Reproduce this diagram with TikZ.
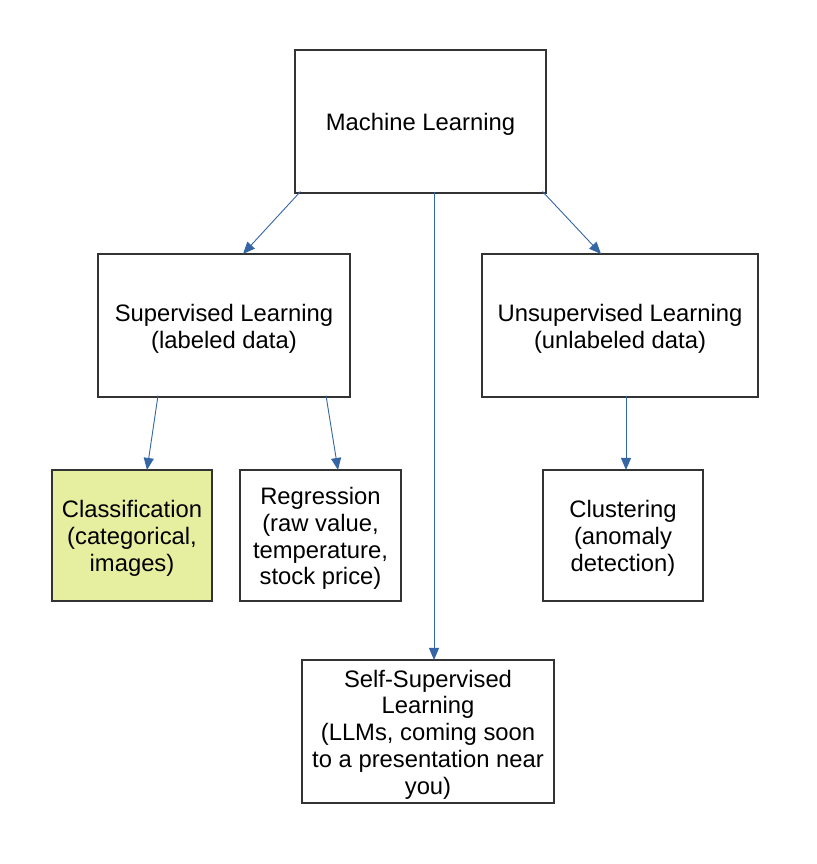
\documentclass[tikz,border=0pt]{standalone}
\usepackage{fontspec}
\setmainfont{Liberation Sans}
\usetikzlibrary{arrows.meta}
\usetikzlibrary{positioning}
\definecolor{edgeblue}{HTML}{3465A4}
\definecolor{classfill}{HTML}{E6EFA0}
\newcommand{\topstrut}{\rule{0pt}{23.5pt}}
\tikzstyle{box}=[rectangle,draw=black!80,line width=1.1pt,fill=white,align=center,inner sep=0pt,font=\fontsize{23.8}{26.8}\selectfont]
\tikzstyle{bigbox}=[box,minimum height=143pt]
\tikzstyle{smallbox}=[box,minimum width=160pt,minimum height=131pt]
\tikzstyle{edge} = [draw,edgeblue,line width=0.9pt,-{Triangle[length=12pt,width=10pt]}]

\begin{document}
\begin{tikzpicture}[x=1pt,y=-1pt]
    \useasboundingbox (0,0) rectangle (816,864);
    % First we draw the boxes
    \node[bigbox,minimum width=251pt] (ml) at (420.5,121.5) {\topstrut Machine Learning};
    \node[bigbox,minimum width=252pt] (sup) at (224,325.5) {\topstrut Supervised Learning\\(labeled data)};
    \node[bigbox,minimum width=276pt] (unsup) at (620,325.5) {\topstrut Unsupervised Learning\\(unlabeled data)};
    \node[smallbox,fill=classfill] (class) at (132,535.5) {\topstrut Classification\\(categorical,\\images)};
    \node[smallbox,minimum width=161pt] (reg) at (320.5,535.5) {\topstrut Regression\\(raw value,\\temperature,\\stock price)};
    \node[smallbox] (clust) at (623,535.5) {\topstrut Clustering\\(anomaly\\detection)};
    \node[bigbox,minimum width=252pt] (self) at (428,731.5) {\topstrut Self-Supervised\\Learning\\(LLMs, coming soon\\to a presentation near\\you)};

    % Connect boxes with arrows
    \foreach \source/\sanchor/\sx/\dest/\dx in {ml/south west/6/sup/19, ml/south east/-4/unsup/-19, ml/south/13.5/self/6,
        sup/south/-66/class/15, sup/south/102/reg/17.5, unsup/south/6/clust/3}
        \draw[edge] ([xshift=\sx pt, yshift=2pt]\source.\sanchor) -- ([xshift=\dx pt, yshift=-0.5pt]\dest.north);
\end{tikzpicture}
\end{document}
